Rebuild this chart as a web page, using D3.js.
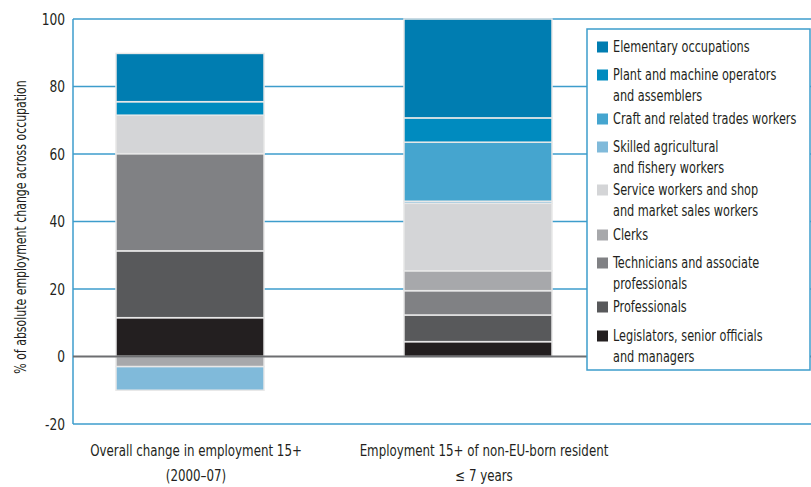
<!DOCTYPE html>
<html lang="en">
<head>
<meta charset="UTF-8">
<title>Employment change by occupation</title>
<script src="https://d3js.org/d3.v7.min.js"></script>
<style>
  body { margin: 0; background: #fff; }
  text { font-family: "Liberation Sans Narrow", "DejaVu Sans Condensed", sans-serif; fill: #231f20; }
</style>
</head>
<body>
<svg width="811" height="487"></svg>
<script>
// categories (x axis), two text lines each
const groups = ["overall", "nonEU"];
const groupLabels = [
  ["Overall change in employment 15+", "(2000\u201307)"],
  ["Employment 15+ of non-EU-born resident", "\u2264 7 years"]
];

// occupations, stacked from bottom to top
const occupations = [
  "Legislators, senior officials and managers",
  "Professionals",
  "Technicians and associate professionals",
  "Clerks",
  "Service workers and shop and market sales workers",
  "Skilled agricultural and fishery workers",
  "Craft and related trades workers",
  "Plant and machine operators and assemblers",
  "Elementary occupations"
];
const colors = ["#231f20", "#58595b", "#808184", "#a7a8ab", "#d4d5d7", "#80bada", "#45a5cf", "#008bbf", "#007db1"];

// values per occupation (same order), one array per category
const overallValues = [11.5, 19.8, 28.8, -3.0, 11.4, -7.0, 0, 4.0, 14.3];
const nonEUValues   = [4.4, 7.9, 7.2, 5.9, 20.0, 0.6, 17.5, 7.2, 29.3];

// legend rows, top to bottom (wrapped text)
const legendLines = [
  ["Elementary occupations"],
  ["Plant and machine operators", "and assemblers"],
  ["Craft and related trades workers"],
  ["Skilled agricultural", "and fishery workers"],
  ["Service workers and shop", "and market sales workers"],
  ["Clerks"],
  ["Technicians and associate", "professionals"],
  ["Professionals"],
  ["Legislators, senior officials", "and managers"]
];
const legendRowY = [47, 75, 119, 147, 190, 235, 263, 307, 336];

const yTicks = [-20, 0, 20, 40, 60, 80, 100];

const svg = d3.select("svg");
const plotLeft = 73, plotRight = 811, plotTop = 19, plotBottom = 424;
const blue = "#3d9dcc";

// the original uses a condensed face; squeeze the fallback horizontally
function label(parent, x, y, str, opts = {}) {
  const sx = opts.sx || 0.87;
  const rot = opts.rotate ? ` rotate(${opts.rotate})` : "";
  return parent.append("text")
    .attr("transform", `translate(${x},${y})${rot} scale(${sx},1)`)
    .attr("text-anchor", opts.anchor || "start")
    .attr("dy", opts.dy || "0.35em")
    .style("font-size", (opts.size || 15) + "px")
    .text(str);
}

const rows = groups.map((g, i) => {
  const vals = i === 0 ? overallValues : nonEUValues;
  const r = { group: g };
  occupations.forEach((o, j) => r[o] = vals[j]);
  return r;
});

const series = d3.stack().keys(occupations).offset(d3.stackOffsetDiverging)(rows);

const x = d3.scaleBand().domain(groups).range([116, 552]).paddingInner(0.486).paddingOuter(0);
const y = d3.scaleLinear().domain([-20, 100]).range([plotBottom, plotTop]);

// gridlines
svg.append("g").selectAll("line")
  .data(yTicks.filter(d => d !== 0))
  .join("line")
  .attr("x1", plotLeft).attr("x2", plotRight)
  .attr("y1", d => y(d)).attr("y2", d => y(d))
  .attr("stroke", blue).attr("stroke-width", 1.5);

// left axis line
svg.append("line")
  .attr("x1", plotLeft).attr("x2", plotLeft)
  .attr("y1", y(100)).attr("y2", y(-20))
  .attr("stroke", blue).attr("stroke-width", 1.5);

// tick labels
const tickG = svg.append("g");
yTicks.forEach(d => label(tickG, plotLeft - 8, y(d), d, { anchor: "end", size: 16, sx: 0.85 }));

// bars
svg.append("g").selectAll("g")
  .data(series)
  .join("g")
  .attr("fill", (d, i) => colors[i])
  .selectAll("rect")
  .data(d => d)
  .join("rect")
  .attr("x", d => x(d.data.group))
  .attr("width", x.bandwidth())
  .attr("y", d => y(Math.max(d[0], d[1])))
  .attr("height", d => Math.abs(y(d[0]) - y(d[1])))
  .attr("stroke", d => d[1] === d[0] ? "none" : "#e8e8e8")
  .attr("stroke-width", 1.5);

// zero line
svg.append("line")
  .attr("x1", plotLeft).attr("x2", plotRight)
  .attr("y1", y(0)).attr("y2", y(0))
  .attr("stroke", "#6d6e71").attr("stroke-width", 2);

// y axis title
label(svg, 20, 227, "% of absolute employment change across occupation",
  { anchor: "middle", rotate: -90, size: 16, sx: 0.76 });

// x labels
groups.forEach((g, i) => {
  groupLabels[i].forEach((line, k) => {
    label(svg, x(g) + x.bandwidth() / 2 + 6, 451 + k * 25, line, { anchor: "middle", size: 15.5, sx: 0.85 });
  });
});

// legend
const legend = svg.append("g");
legend.append("rect")
  .attr("x", 587).attr("y", 29)
  .attr("width", 223).attr("height", 341)
  .attr("fill", "#fff")
  .attr("stroke", blue).attr("stroke-width", 1.5);

legendLines.forEach((lines, i) => {
  const cy = legendRowY[i];
  const colorIdx = occupations.length - 1 - i;
  legend.append("rect")
    .attr("x", 597).attr("y", cy - 5.5)
    .attr("width", 11).attr("height", 11)
    .attr("fill", colors[colorIdx]);
  lines.forEach((line, k) => {
    label(legend, 613, cy + k * 20.5, line, { size: 15.5, sx: 0.81 });
  });
});
</script>
</body>
</html>
